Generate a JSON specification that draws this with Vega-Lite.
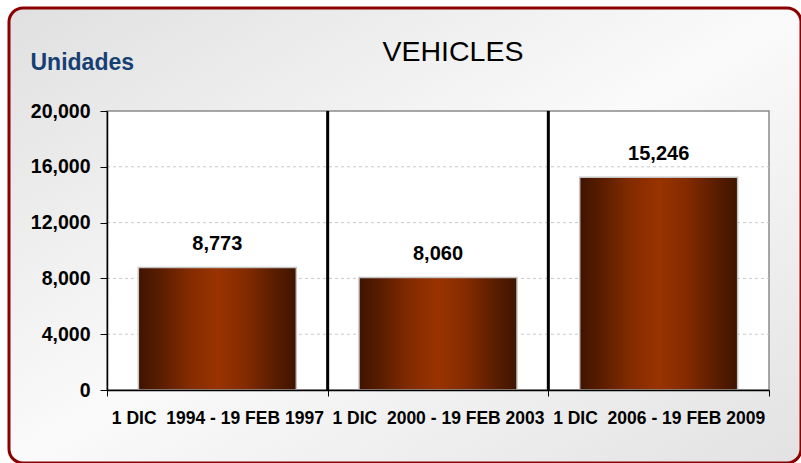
{
  "$schema": "https://vega.github.io/schema/vega-lite/v6.json",
  "autosize": {"type": "none"},
  "width": 792,
  "height": 455,
  "padding": {"left": 9, "top": 8, "right": 0, "bottom": 0},
  "background": "white",
  "title": {
    "text": "VEHICLES",
    "anchor": "middle",
    "frame": "group",
    "offset": -81,
    "dx": 48,
    "baseline": "alphabetic",
    "fontSize": 28.5,
    "fontWeight": "normal",
    "color": "black",
    "font": "Liberation Sans"
  },
  "data": {
    "values": [
      {"periodo": "1 DIC\u00a0 1994 - 19 FEB 1997", "unidades": 8773},
      {"periodo": "1 DIC\u00a0 2000 - 19 FEB 2003", "unidades": 8060},
      {"periodo": "1 DIC\u00a0 2006 - 19 FEB 2009", "unidades": 15246}
    ]
  },
  "encoding": {
    "x": {
      "field": "periodo",
      "type": "nominal",
      "sort": null,
      "scale": {"range": [98, 760], "paddingInner": 0, "paddingOuter": 0},
      "axis": {
        "title": null,
        "orient": "bottom",
        "offset": -73,
        "zindex": 1,
        "tickBand": "extent",
        "grid": false,
        "domainColor": "black",
        "domainWidth": 1.5,
        "tickColor": "black",
        "tickSize": 6,
        "labelFont": "Liberation Sans",
        "labelFontSize": 17.5,
        "labelFontWeight": "bold",
        "labelColor": "black",
        "labelPadding": 27,
        "labelBaseline": "alphabetic",
        "labelAngle": 0,
        "labelLimit": 300,
        "labelOverlap": false,
        "labelBound": false,
        "labelFlush": false
      }
    },
    "y": {
      "field": "unidades",
      "type": "quantitative",
      "title": "Unidades",
      "scale": {"domain": [0, 20000], "range": [382, 103], "nice": false},
      "axis": {
        "title": "Unidades",
        "titleAngle": 0,
        "titleAlign": "left",
        "titleBaseline": "alphabetic",
        "titleX": -77,
        "titleY": 61,
        "titleFont": "Liberation Sans",
        "titleFontSize": 23,
        "titleFontWeight": "bold",
        "titleColor": "#163f73",
        "offset": -98,
        "zindex": 1,
        "values": [0, 4000, 8000, 12000, 16000, 20000],
        "format": ",.0f",
        "labelFont": "Liberation Sans",
        "labelFontSize": 19.5,
        "labelFontWeight": "bold",
        "labelColor": "black",
        "labelPadding": 10,
        "tickSize": 7,
        "tickColor": "black",
        "domainColor": "black",
        "domainWidth": 1.5,
        "grid": false
      }
    }
  },
  "layer": [
    {
      "mark": {"type": "bar", "fill": "white", "stroke": "#8a8a8a", "strokeWidth": 1.5, "width": {"band": 1}},
      "encoding": {
        "y": {"datum": 20000, "type": "quantitative", "title": "Unidades"},
        "y2": {"datum": 0}
      }
    },
    {
      "data": {"values": [{"g": 4000}, {"g": 8000}, {"g": 12000}, {"g": 16000}]},
      "mark": {"type": "rule", "color": "#c8c8c8", "strokeWidth": 1, "strokeDash": [3, 3]},
      "encoding": {
        "y": {"field": "g", "type": "quantitative", "title": "Unidades"},
        "x": {"datum": "1 DIC\u00a0 1994 - 19 FEB 1997", "bandPosition": 0},
        "x2": {"datum": "1 DIC\u00a0 2006 - 19 FEB 2009", "bandPosition": 1}
      }
    },
    {
      "transform": [{"filter": "indexof(datum.periodo, '1994') < 0"}],
      "mark": {"type": "rule", "color": "black", "strokeWidth": 3},
      "encoding": {
        "x": {"field": "periodo", "type": "nominal", "sort": null, "bandPosition": 0},
        "y": {"datum": 0, "type": "quantitative", "title": "Unidades"},
        "y2": {"datum": 20000}
      }
    },
    {
      "mark": {
        "type": "bar",
        "width": {"band": 0.716},
        "stroke": "#c4c4c4",
        "strokeWidth": 1.5,
        "fill": {
          "gradient": "linear",
          "x1": 0, "y1": 0, "x2": 1, "y2": 0,
          "stops": [
            {"offset": 0, "color": "#3f1400"},
            {"offset": 0.15, "color": "#5c1e00"},
            {"offset": 0.32, "color": "#832b00"},
            {"offset": 0.5, "color": "#993300"},
            {"offset": 0.68, "color": "#832b00"},
            {"offset": 0.85, "color": "#5c1e00"},
            {"offset": 1, "color": "#3f1400"}
          ]
        }
      }
    },
    {
      "mark": {
        "type": "text",
        "dy": -17.6,
        "baseline": "alphabetic",
        "fontSize": 20,
        "fontWeight": "bold",
        "font": "Liberation Sans",
        "color": "black"
      },
      "encoding": {
        "text": {"field": "unidades", "type": "quantitative", "format": ","}
      }
    }
  ],
  "config": {
    "font": "Liberation Sans",
    "view": {
      "stroke": "#8b0000",
      "strokeWidth": 3,
      "cornerRadius": 14,
      "fill": {
        "gradient": "linear",
        "x1": 0, "y1": 0, "x2": 1, "y2": 1,
        "stops": [
          {"offset": 0, "color": "#e0e0e0"},
          {"offset": 0.5, "color": "#fafafa"},
          {"offset": 1, "color": "#e2e2e2"}
        ]
      }
    }
  }
}
